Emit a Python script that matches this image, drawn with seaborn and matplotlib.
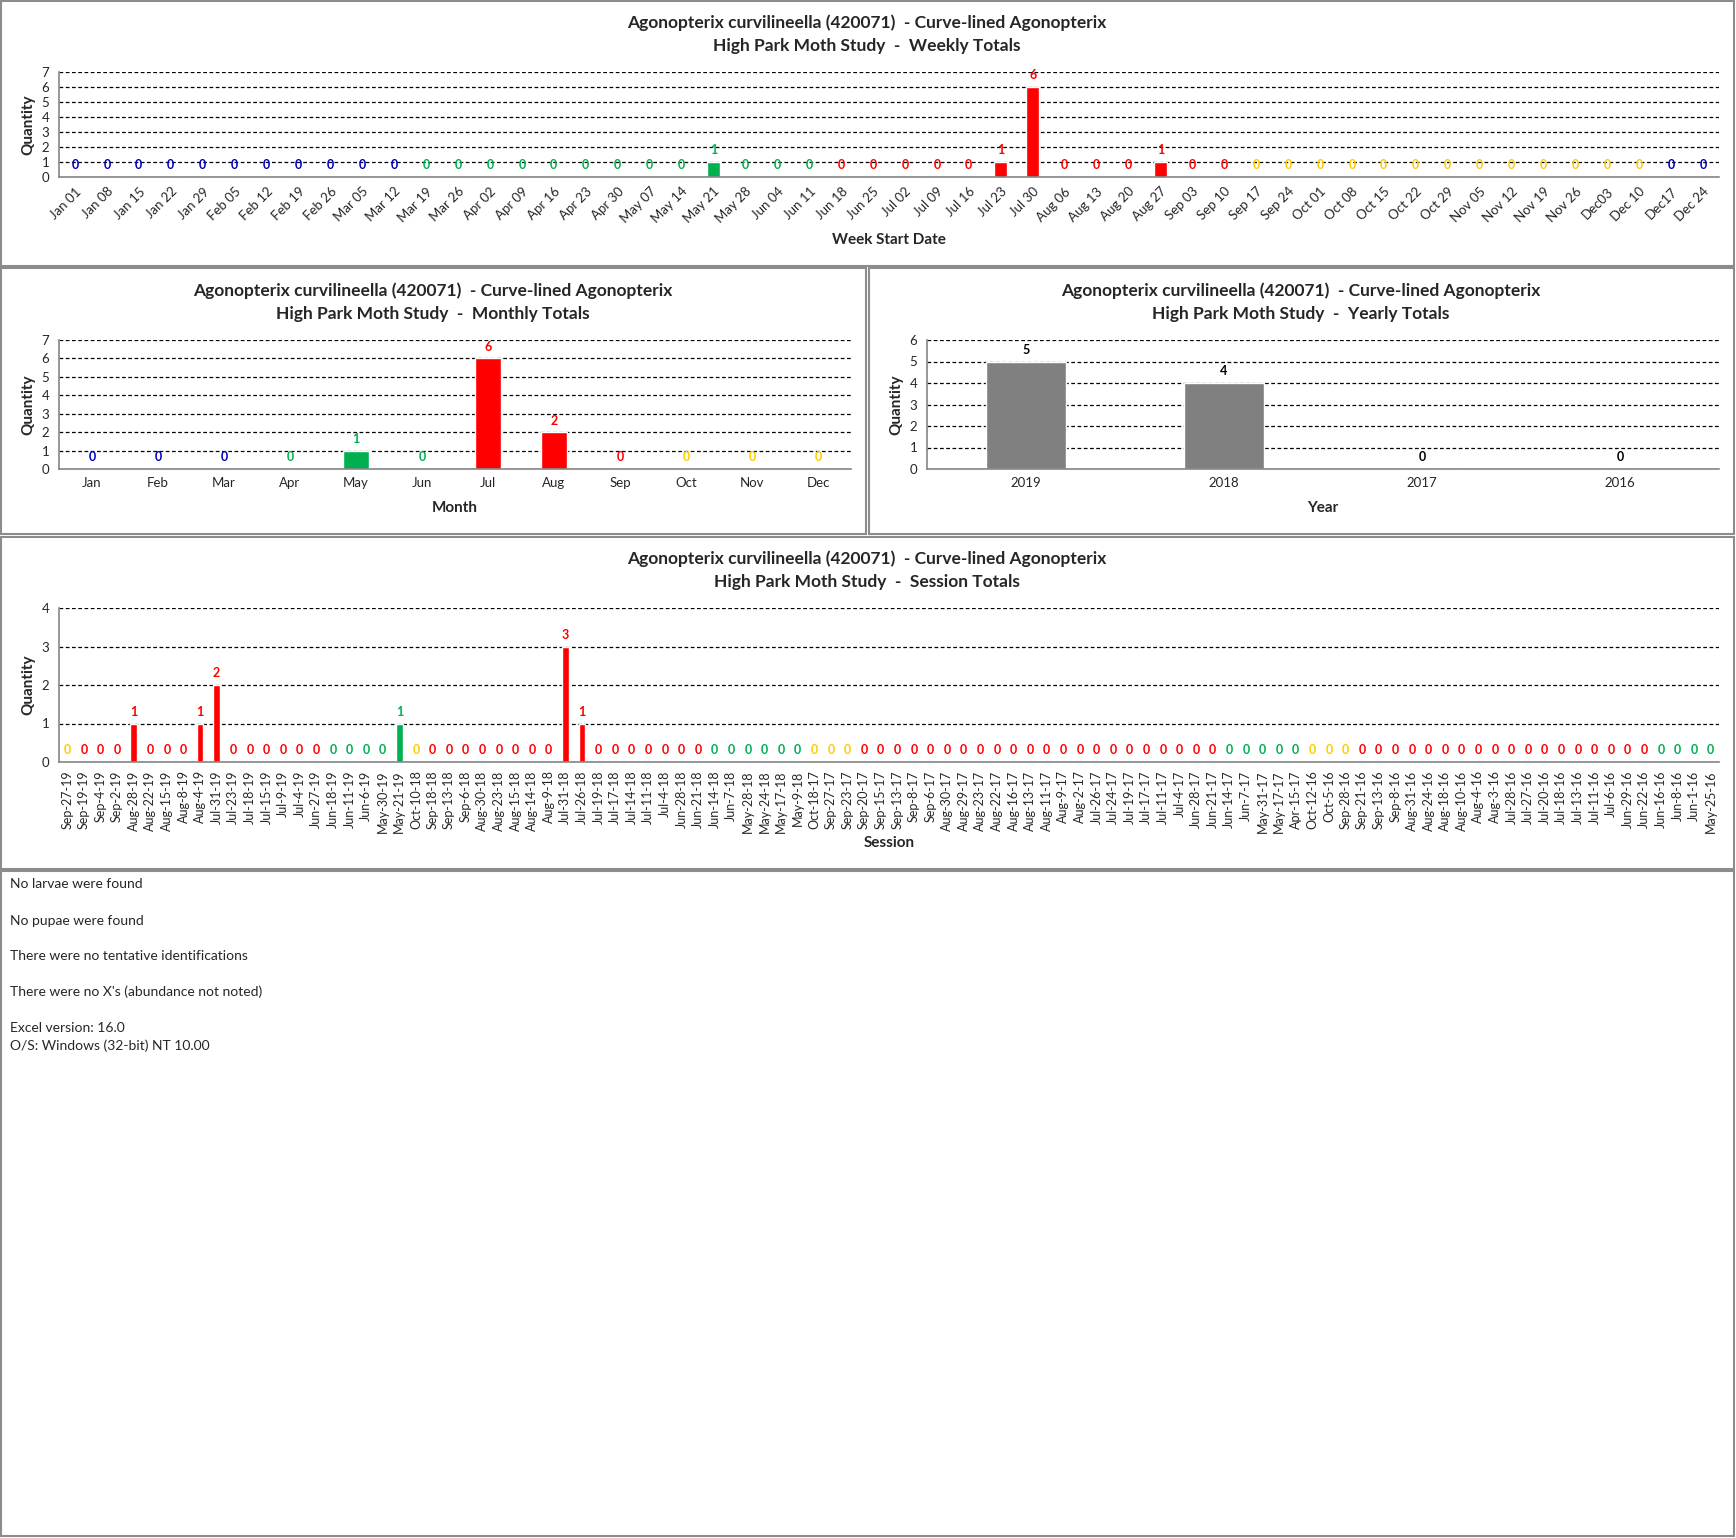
import matplotlib
matplotlib.use("Agg")
import matplotlib.pyplot as plt
from matplotlib.patches import Rectangle
import seaborn as sns
import numpy as np

W, H = 1736, 1538

TITLE1 = "Agonopterix curvilineella (420071)  - Curve-lined Agonopterix"

# weekly totals (week start dates)
week_labels = ["Jan 01", "Jan 08", "Jan 15", "Jan 22", "Jan 29", "Feb 05", "Feb 12", "Feb 19", "Feb 26",
               "Mar 05", "Mar 12", "Mar 19", "Mar 26", "Apr 02", "Apr 09", "Apr 16", "Apr 23", "Apr 30",
               "May 07", "May 14", "May 21", "May 28", "Jun 04", "Jun 11", "Jun 18", "Jun 25", "Jul 02",
               "Jul 09", "Jul 16", "Jul 23", "Jul 30", "Aug 06", "Aug 13", "Aug 20", "Aug 27", "Sep 03",
               "Sep 10", "Sep 17", "Sep 24", "Oct 01", "Oct 08", "Oct 15", "Oct 22", "Oct 29", "Nov 05",
               "Nov 12", "Nov 19", "Nov 26", "Dec03", "Dec 10", "Dec17", "Dec 24"]
week_counts = [0, 0, 0, 0, 0, 0, 0, 0, 0, 0,
               0, 0, 0, 0, 0, 0, 0, 0, 0, 0,
               1, 0, 0, 0, 0, 0, 0, 0, 0, 1,
               6, 0, 0, 0, 1, 0, 0, 0, 0, 0,
               0, 0, 0, 0, 0, 0, 0, 0, 0, 0,
               0, 0]
week_seasons = "B" * 11 + "G" * 13 + "R" * 13 + "Y" * 13 + "B" * 2

# monthly totals
month_labels = ["Jan", "Feb", "Mar", "Apr", "May", "Jun", "Jul", "Aug", "Sep", "Oct", "Nov", "Dec"]
month_counts = [0, 0, 0, 0, 1, 0, 6, 2, 0, 0, 0, 0]
month_seasons = "BBBGGGRRRYYY"

# yearly totals
year_labels = ["2019", "2018", "2017", "2016"]
year_counts = [5, 4, 0, 0]

# session totals
session_labels = ["Sep-27-19", "Sep-19-19", "Sep-4-19", "Sep-2-19", "Aug-28-19", "Aug-22-19", "Aug-15-19",
                  "Aug-8-19", "Aug-4-19", "Jul-31-19", "Jul-23-19", "Jul-18-19", "Jul-15-19", "Jul-9-19",
                  "Jul-4-19", "Jun-27-19", "Jun-18-19", "Jun-11-19", "Jun-6-19", "May-30-19", "May-21-19",
                  "Oct-10-18", "Sep-18-18", "Sep-13-18", "Sep-6-18", "Aug-30-18", "Aug-23-18", "Aug-15-18",
                  "Aug-14-18", "Aug-9-18", "Jul-31-18", "Jul-26-18", "Jul-19-18", "Jul-17-18", "Jul-14-18",
                  "Jul-11-18", "Jul-4-18", "Jun-28-18", "Jun-21-18", "Jun-14-18", "Jun-7-18", "May-28-18",
                  "May-24-18", "May-17-18", "May-9-18", "Oct-18-17", "Sep-27-17", "Sep-23-17", "Sep-20-17",
                  "Sep-15-17", "Sep-13-17", "Sep-8-17", "Sep-6-17", "Aug-30-17", "Aug-29-17", "Aug-23-17",
                  "Aug-22-17", "Aug-16-17", "Aug-13-17", "Aug-11-17", "Aug-9-17", "Aug-2-17", "Jul-26-17",
                  "Jul-24-17", "Jul-19-17", "Jul-17-17", "Jul-11-17", "Jul-4-17", "Jun-28-17", "Jun-21-17",
                  "Jun-14-17", "Jun-7-17", "May-31-17", "May-17-17", "Apr-15-17", "Oct-12-16", "Oct-5-16",
                  "Sep-28-16", "Sep-21-16", "Sep-13-16", "Sep-8-16", "Aug-31-16", "Aug-24-16", "Aug-18-16",
                  "Aug-10-16", "Aug-4-16", "Aug-3-16", "Jul-28-16", "Jul-27-16", "Jul-20-16", "Jul-18-16",
                  "Jul-13-16", "Jul-11-16", "Jul-6-16", "Jun-29-16", "Jun-22-16", "Jun-16-16", "Jun-8-16",
                  "Jun-1-16", "May-25-16"]
session_counts = [0, 0, 0, 0, 1, 0, 0, 0, 1, 2,
                  0, 0, 0, 0, 0, 0, 0, 0, 0, 0,
                  1, 0, 0, 0, 0, 0, 0, 0, 0, 0,
                  3, 1, 0, 0, 0, 0, 0, 0, 0, 0,
                  0, 0, 0, 0, 0, 0, 0, 0, 0, 0,
                  0, 0, 0, 0, 0, 0, 0, 0, 0, 0,
                  0, 0, 0, 0, 0, 0, 0, 0, 0, 0,
                  0, 0, 0, 0, 0, 0, 0, 0, 0, 0,
                  0, 0, 0, 0, 0, 0, 0, 0, 0, 0,
                  0, 0, 0, 0, 0, 0, 0, 0, 0, 0]

notes = ["No larvae were found", "No pupae were found", "There were no tentative identifications",
         "There were no X's (abundance not noted)", "Excel version: 16.0", "O/S: Windows (32-bit) NT 10.00"]

SEASON_COLORS = {"B": "#0000C0", "G": "#00B050", "R": "#FF0000", "Y": "#FFCC00"}
MONTHS = month_labels


def season_of(label):
    # season of a session date, by equinox / solstice
    mon, day, _ = label.split("-")
    md = (MONTHS.index(mon) + 1, int(day))
    if md >= (12, 21) or md < (3, 20):
        return "B"
    if md < (6, 21):
        return "G"
    if md < (9, 22):
        return "R"
    return "Y"


session_seasons = "".join(season_of(s) for s in session_labels)

sns.set_style("white")
plt.rcParams["font.family"] = ["Lato", "DejaVu Sans"]

fig = plt.figure(figsize=(W / 100, H / 100), dpi=100)


def px_rect(l, t, r, b):
    return [l / W, 1 - b / H, (r - l) / W, (b - t) / H]


def panel(l, t, r, b):
    fig.patches.append(Rectangle((l / W, 1 - b / H), (r - l) / W, (b - t) / H,
                                 transform=fig.transFigure, fill=False,
                                 edgecolor="#8c8c8c", lw=1.5))


def bar_chart(rect, labels, counts, colors, label_colors, ymax, xlab, xlab_y,
              rot=0, tick_size=9.5):
    l, t, r, b = rect
    ax = fig.add_axes(px_rect(l, t, r, b))
    sns.barplot(x=labels, y=counts, hue=labels, palette=dict(zip(labels, colors)),
                legend=False, width=0.4, saturation=1, ax=ax)
    n = len(labels)
    ax.set_xlim(-0.5, n - 0.5)
    ax.set_ylim(0, ymax)
    ax.set_yticks(range(ymax + 1))
    ax.yaxis.grid(True, linestyle=(0, (3, 2)), color="black", lw=0.9)
    ax.set_axisbelow(True)
    for s in ["top", "right"]:
        ax.spines[s].set_visible(False)
    for s in ["left", "bottom"]:
        ax.spines[s].set_color("#868686")
        ax.spines[s].set_linewidth(1.2)
    ax.set_xticks(np.arange(-0.5, n, 1.0), minor=True)
    ax.tick_params(axis="x", which="major", length=0, pad=6, labelsize=tick_size)
    ax.tick_params(axis="x", which="minor", length=5, color="#868686", direction="out")
    ax.tick_params(axis="y", length=4, color="#868686", labelsize=9.5, pad=3, direction="out")
    ax.set_xticks(range(n))
    if rot == 45:
        ax.set_xticklabels(labels, rotation=45, ha="right", rotation_mode="anchor")
    elif rot == 90:
        ax.set_xticklabels(labels, rotation=90, ha="center")
    else:
        ax.set_xticklabels(labels)
    ax.set_xlabel("")
    ax.set_ylabel("")
    for i, v in enumerate(counts):
        ax.annotate(str(v), (i, v), xytext=(0, 4), textcoords="offset points",
                    ha="center", va="bottom", color=label_colors[i],
                    fontsize=9, fontweight="bold")
    cx = (l + r) / 2
    fig.text(cx / W, 1 - xlab_y / H, xlab, ha="center", va="center",
             fontsize=11, fontweight="bold")
    fig.text((l - 31) / W, 1 - (t + b) / 2 / H, "Quantity", rotation=90,
             ha="center", va="center", fontsize=11, fontweight="bold")
    return ax


def titles(cx, y1, y2, sub):
    fig.text(cx / W, 1 - y1 / H, TITLE1, ha="center", va="center",
             fontsize=12.5, fontweight="bold")
    fig.text(cx / W, 1 - y2 / H, "High Park Moth Study  -  " + sub, ha="center",
             va="center", fontsize=12.5, fontweight="bold")


# panels
panel(1, 1, 1734, 266)
panel(1, 268, 866, 534)
panel(869, 268, 1734, 534)
panel(1, 537, 1734, 869)
panel(1, 871, 1734, 1536)

# weekly
wcol = [SEASON_COLORS[c] for c in week_seasons]
bar_chart((59, 72, 1719, 177), week_labels, week_counts, wcol, wcol, 7,
          "Week Start Date", 240, rot=45)
titles(867, 23, 46, "Weekly Totals")

# monthly
mcol = [SEASON_COLORS[c] for c in month_seasons]
bar_chart((59, 340, 851, 469), month_labels, month_counts, mcol, mcol, 7,
          "Month", 508)
titles(433, 291, 314, "Monthly Totals")

# yearly
bar_chart((927, 340, 1719, 469), year_labels, year_counts, ["#808080"] * 4,
          ["black"] * 4, 6, "Year", 508)
titles(1301, 291, 314, "Yearly Totals")

# sessions
scol = [SEASON_COLORS[c] for c in session_seasons]
bar_chart((59, 608, 1719, 762), session_labels, session_counts, scol, scol, 4,
          "Session", 843, rot=90, tick_size=9)
titles(867, 559, 582, "Session Totals")

# notes
note_y = [884, 921, 956, 992, 1028, 1046]
for txt, y in zip(notes, note_y):
    fig.text(10 / W, 1 - y / H, txt, ha="left", va="center", fontsize=10)

fig.savefig("out.png", dpi=100)
